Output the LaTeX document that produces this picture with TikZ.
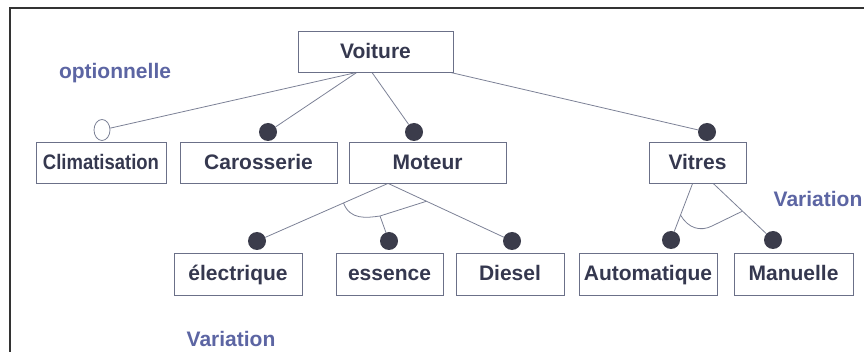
\documentclass[tikz,border=0pt]{standalone}
\usepackage{fontspec}
\setmainfont{Liberation Sans}
\usetikzlibrary{shapes.geometric,calc,backgrounds}
\definecolor{ink}{HTML}{35384F}
\definecolor{notecol}{HTML}{5C65A3}
\definecolor{boxline}{HTML}{6B7088}
\definecolor{wire}{HTML}{7C8196}
\definecolor{dotcol}{HTML}{3B3C4B}
\definecolor{framecol}{HTML}{333333}
\begin{document}
\begin{tikzpicture}[x=1pt,y=-1pt,
  feature/.style={draw=boxline, line width=0.8pt, minimum height=41pt, inner sep=0pt,
    text height=17pt, text depth=3pt,
    font=\fontsize{21}{24}\selectfont\bfseries, text=ink},
  link/.style={draw=wire, line width=0.8pt},
  mandatory/.style={circle, fill=dotcol, minimum size=18pt, inner sep=0pt},
  optional/.style={ellipse, draw=wire, fill=white, line width=0.8pt,
    minimum width=16pt, minimum height=21pt, inner sep=0pt},
  note/.style={font=\fontsize{21}{24}\selectfont\bfseries, text=notecol, inner sep=0pt}]
\useasboundingbox (0,0) rectangle (864,352);

% frame
\draw[framecol, line width=2.2pt] (10,352) -- (10,8) -- (864,8);

% features
\node[feature, minimum width=155pt] (voiture) at (375.5,51.5) {Voiture};
\node[feature, minimum width=130pt] (clim) at (101,162.5) {\scalebox{0.88}[1]{Climatisation}};
\node[feature, minimum width=157pt] (caro) at (258.5,162.5) {Carosserie};
\node[feature, minimum width=157pt] (moteur) at (427.5,162.5) {Moteur};
\node[feature, minimum width=97pt] (vitres) at (697.5,162.5) {Vitres};
\node[feature, minimum width=128pt, minimum height=42pt] (elec) at (238,274) {électrique};
\node[feature, minimum width=107pt, minimum height=42pt] (ess) at (389.5,274) {essence};
\node[feature, minimum width=108pt, minimum height=42pt] (diesel) at (510,274) {Diesel};
\node[feature, minimum width=138pt, minimum height=42pt] (auto) at (648,274) {Automatique};
\node[feature, minimum width=119pt, minimum height=42pt] (manu) at (793.5,274) {Manuelle};

% mandatory / optional markers
\node[optional] (oclim) at (102,130) {};
\node[mandatory] (dcaro) at (268,132) {};
\node[mandatory] (dmot) at (414,132) {};
\node[mandatory] (dvit) at (707,132) {};
\node[mandatory] (delec) at (257,241) {};
\node[mandatory] (dess) at (389,241) {};
\node[mandatory] (ddies) at (512,241) {};
\node[mandatory] (dauto) at (671,240) {};
\node[mandatory] (dmanu) at (773,240) {};

% labels
\node[note] (optlbl) at (115,73) {optionnelle};
\node[note] (varbas) at (231,339) {Variation};
\node[note] (vardroite) at (818,199) {Variation};

% connectors
\begin{scope}[on background layer]
  \coordinate (va) at ($(voiture.south west)!0.38!(voiture.south east)$);
  \coordinate (vb) at ($(voiture.south west)!0.477!(voiture.south east)$);
  \coordinate (vc) at ($(voiture.south west)!0.98!(voiture.south east)$);
  \draw[link] (va) -- (oclim);
  \draw[link] (va) -- (dcaro);
  \draw[link] (vb) -- (dmot);
  \draw[link] (vc) -- (dvit);

  \coordinate (ma) at ($(moteur.south west)!0.25!(moteur.south east)$);
  \draw[link] (ma) -- (delec);
  \draw[link] (ma) -- (ddies);
  \coordinate (mal) at ($(ma)!0.34!(delec)$);
  \coordinate (mar) at ($(ma)!0.31!(ddies)$);
  \draw[link] (mal) .. controls (350,220) and (366,218) .. (380,216) -- (mar);
  \coordinate (mess) at (380,216);
  \draw[link] (mess) -- (dess);

  \coordinate (vl) at ($(vitres.south west)!0.45!(vitres.south east)$);
  \coordinate (vr) at ($(vitres.south west)!0.66!(vitres.south east)$);
  \draw[link] (vl) -- (dauto);
  \draw[link] (vr) -- (dmanu);
  \coordinate (val) at ($(vl)!0.56!(dauto)$);
  \coordinate (var) at ($(vr)!0.49!(dmanu)$);
  \draw[link] (val) .. controls (688,228) and (700,232) .. (712,226) -- (var);
\end{scope}
\end{tikzpicture}
\end{document}
